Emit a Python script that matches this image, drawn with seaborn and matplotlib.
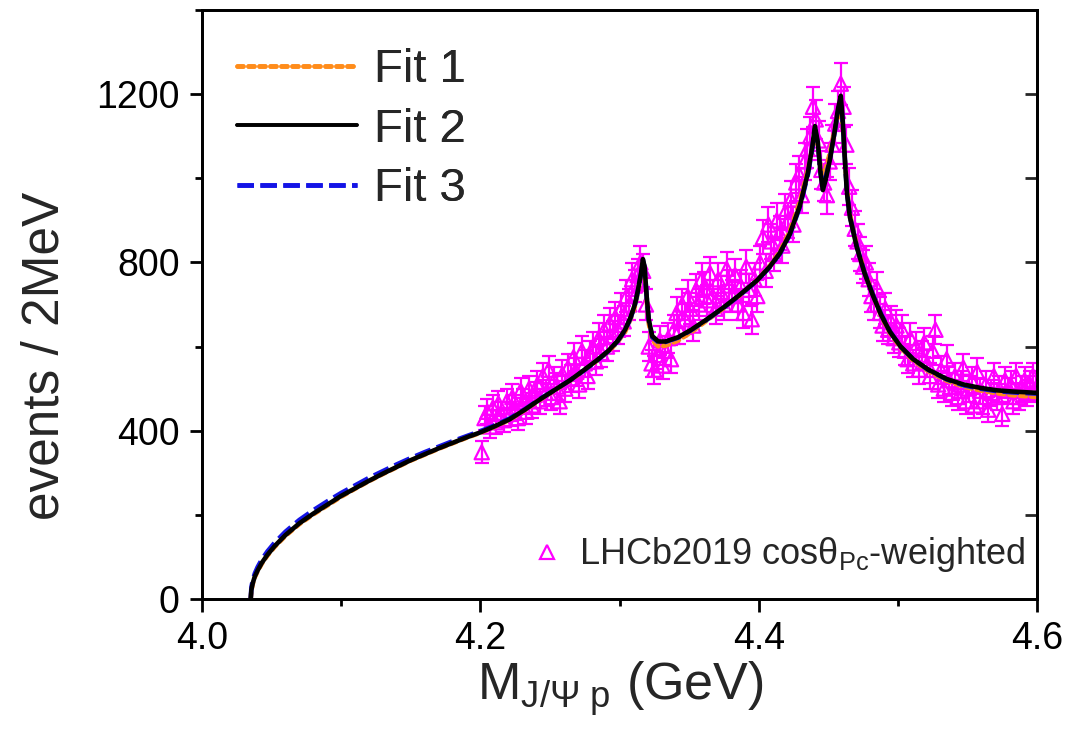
import numpy as np
import pandas as pd
import matplotlib
matplotlib.use("Agg")
import matplotlib.pyplot as plt
import seaborn as sns
from matplotlib.lines import Line2D
from matplotlib.ticker import MultipleLocator, FormatStrFormatter

# ---------------- data ----------------
bin_start = 4.200   # GeV
bin_width = 0.002   # GeV (2 MeV bins)

data_y = [
    349, 430, 445, 410, 455, 420, 465, 440, 425, 470,
    440, 480, 455, 430, 495, 470, 445, 500, 460, 485,
    510, 470, 530, 490, 545, 480, 520, 505, 470, 535,
    500, 550, 525, 575, 540, 510, 590, 560, 530, 580,
    600, 565, 620, 585, 640, 600, 655, 625, 670, 640,
    690, 660, 720, 700, 760, 745, 770, 800, 780, 700,
    600, 560, 545, 580, 615, 555, 590, 620, 570, 640,
    680, 640, 700, 665, 720, 690, 650, 735, 700, 760,
    740, 710, 775, 720, 690, 760, 730, 700, 785, 745,
    720, 770, 700, 745, 680, 790, 735, 665, 760, 720,
    800, 860, 780, 890, 850, 820, 900, 870, 840, 920,
    900, 950, 890, 990, 1010, 960, 1040, 1070, 1100, 1170,
    1140, 1090, 1020, 990, 960, 1040, 1080, 1130, 1160, 1225,
    1170, 1080, 980, 930, 880, 850, 820, 790, 800, 760,
    720, 700, 740, 680, 650, 690, 640, 660, 620, 650,
    610, 640, 590, 570, 620, 560, 600, 545, 580, 610,
    560, 530, 590, 640, 510, 545, 500, 570, 520, 490,
    530, 480, 510, 550, 470, 500, 520, 460, 540, 495,
    470, 510, 450, 490, 530, 480, 500, 440, 520, 495,
    510, 470, 530, 480, 500, 520, 490, 510, 530, 500,
]
data_err = [
    26, 29, 30, 28, 30, 29, 30, 29, 29, 30,
    29, 31, 30, 29, 31, 30, 30, 31, 30, 31,
    32, 30, 32, 31, 33, 31, 32, 31, 30, 32,
    31, 33, 32, 34, 33, 32, 34, 33, 32, 34,
    34, 33, 35, 34, 35, 34, 36, 35, 36, 35,
    37, 36, 38, 37, 39, 38, 39, 40, 39, 37,
    34, 33, 33, 34, 35, 33, 34, 35, 34, 35,
    37, 35, 37, 36, 38, 37, 36, 38, 37, 39,
    38, 37, 39, 38, 37, 39, 38, 37, 39, 38,
    38, 39, 37, 38, 37, 39, 38, 36, 39, 38,
    40, 41, 39, 42, 41, 40, 42, 41, 41, 42,
    42, 43, 42, 44, 44, 43, 45, 46, 46, 48,
    47, 46, 45, 44, 44, 45, 46, 47, 48, 50,
    48, 46, 44, 43, 42, 41, 40, 40, 40, 39,
    38, 37, 38, 37, 36, 37, 35, 36, 35, 36,
    35, 35, 34, 33, 35, 33, 34, 33, 34, 35,
    33, 32, 34, 35, 32, 33, 31, 33, 32, 31,
    32, 31, 32, 33, 30, 31, 32, 30, 33, 31,
    30, 32, 30, 31, 32, 31, 31, 29, 32, 31,
    32, 30, 32, 31, 31, 32, 31, 32, 32, 31,
]
data_x = [bin_start + bin_width * (i + 0.5) for i in range(len(data_y))]

fit_x = [
    4.0350, 4.0355, 4.0365, 4.0380, 4.0400, 4.0430, 4.0470, 4.0520, 4.0600, 4.0700,
    4.0800, 4.0900, 4.1000, 4.1100, 4.1200, 4.1300, 4.1400, 4.1500, 4.1600, 4.1700,
    4.1800, 4.1900, 4.2000, 4.2100, 4.2210, 4.2320, 4.2440, 4.2540, 4.2645, 4.2740,
    4.2840, 4.2920, 4.2985, 4.3040, 4.3080, 4.3110, 4.3130, 4.3155, 4.3168, 4.3180,
    4.3195, 4.3210, 4.3235, 4.3280, 4.3330, 4.3420, 4.3506, 4.3620, 4.3743, 4.3860,
    4.3987, 4.4080, 4.4152, 4.4224, 4.4296, 4.4353, 4.4385, 4.4404, 4.4425, 4.4445,
    4.4461, 4.4480, 4.4511, 4.4545, 4.4570, 4.4590, 4.4605, 4.4620, 4.4634, 4.4655,
    4.4705, 4.4760, 4.4820, 4.4880, 4.4943, 4.5020, 4.5110, 4.5220, 4.5350, 4.5470,
    4.5590, 4.5710, 4.5830, 4.6000]
fit2_y = [
    0, 22, 38, 54, 68, 86, 105, 125, 152, 180,
    203, 224, 245, 263, 281, 298, 314, 330, 344, 358,
    371, 384, 396, 410, 427, 450, 477, 498, 520, 543,
    568, 590, 613, 640, 670, 700, 730, 775, 808, 790,
    720, 665, 625, 612, 612, 622, 638, 663, 692, 722,
    757, 790, 822, 868, 935, 1012, 1075, 1124, 1085, 1010,
    972, 995, 1043, 1110, 1165, 1196, 1130, 1040, 965, 908,
    836, 775, 722, 675, 635, 600, 570, 545, 523, 510,
    502, 496, 493, 490]
fit1_y = [
    0, 20, 36, 52, 66, 84, 103, 123, 150, 178,
    201, 222, 243, 262, 280, 297, 313, 329, 343, 357,
    370, 383, 395, 409, 426, 449, 476, 497, 519, 542,
    567, 588, 610, 635, 665, 695, 725, 770, 800, 785,
    712, 655, 615, 600, 602, 614, 632, 660, 690, 721,
    757, 792, 826, 875, 945, 1020, 1070, 1100, 1075, 1025,
    1005, 1020, 1060, 1115, 1150, 1170, 1120, 1045, 975, 915,
    840, 778, 723, 673, 632, 597, 567, 541, 519, 505,
    496, 489, 484, 480]
fit3_y = [
    0, 28, 45, 61, 76, 94, 113, 133, 160, 188,
    211, 232, 252, 270, 288, 304, 320, 335, 349, 362,
    375, 387, 399, 412, 429, 451, 478, 498, 520, 542,
    567, 589, 612, 638, 668, 698, 728, 773, 805, 788,
    718, 662, 622, 610, 611, 621, 637, 662, 691, 721,
    756, 789, 820, 866, 932, 1008, 1070, 1118, 1082, 1012,
    978, 1000, 1045, 1108, 1160, 1190, 1128, 1042, 968, 910,
    838, 777, 724, 677, 636, 600, 570, 544, 522, 508,
    500, 494, 491, 488]

fit_labels = ["Fit 1", "Fit 2", "Fit 3"]
data_label = "LHCb2019 cosθ$_{\\rm Pc}$-weighted"

# ---------------- style ----------------
sns.set_theme(style="ticks")
plt.rcParams['font.family'] = ['Liberation Sans', 'DejaVu Sans']
plt.rcParams['mathtext.fontset'] = 'custom'
plt.rcParams['mathtext.rm'] = 'Liberation Sans'
plt.rcParams['mathtext.it'] = 'Liberation Sans:italic'
plt.rcParams['mathtext.bf'] = 'Liberation Sans:bold'

magenta = '#FF00FF'
orange = '#FF8C1A'
blue = '#1414E6'
LW = 3.3

fig = plt.figure(figsize=(10.71, 7.31), dpi=100)
ax = fig.add_axes([0.1886, 0.1806, 0.7797, 0.8057])

# data points with error bars
ax.errorbar(data_x, data_y, yerr=data_err, fmt='none', ecolor=magenta,
            elinewidth=1.6, capsize=4.8, capthick=1.6, zorder=2)
sns.scatterplot(x=data_x, y=data_y, ax=ax, marker='^', s=105,
                facecolor='none', edgecolor=magenta, linewidth=1.6, zorder=3)

# fit curves
sns.lineplot(x=fit_x, y=fit1_y, ax=ax, color=orange, linewidth=LW,
             linestyle=(0, (1.3, 1.1)), dash_capstyle='round',
             sort=False, estimator=None, zorder=4)
sns.lineplot(x=fit_x, y=fit3_y, ax=ax, color=blue, linewidth=LW,
             linestyle=(0, (3.6, 1.4)), sort=False, estimator=None, zorder=5)
sns.lineplot(x=fit_x, y=fit2_y, ax=ax, color='black', linewidth=LW,
             sort=False, estimator=None, zorder=6)

ax.set_xlim(4.0, 4.6)
ax.set_ylim(0, 1400)
ax.xaxis.set_major_locator(MultipleLocator(0.2))
ax.xaxis.set_minor_locator(MultipleLocator(0.1))
ax.yaxis.set_major_locator(MultipleLocator(400))
ax.yaxis.set_minor_locator(MultipleLocator(200))
ax.xaxis.set_major_formatter(FormatStrFormatter('%.1f'))
ax.tick_params(which='both', direction='out', width=2, labelsize=27,
               top=False, right=False, pad=7, colors='black')
ax.tick_params(which='major', length=9)
ax.tick_params(which='minor', length=5)
for s in ax.spines.values():
    s.set_linewidth(2)
    s.set_color('black')
ax.set_xlabel('')
ax.set_ylabel('')

# right axis with inward ticks
ax2 = ax.twinx()
ax2.set_ylim(0, 1400)
ax2.yaxis.set_major_locator(MultipleLocator(400))
ax2.yaxis.set_minor_locator(MultipleLocator(200))
ax2.tick_params(which='both', direction='in', width=2, labelright=False, right=True)
ax2.tick_params(which='major', length=9)
ax2.tick_params(which='minor', length=9)
for s in ax2.spines.values():
    s.set_linewidth(2)
    s.set_color('black')

# legends
handles = [
    Line2D([], [], color=orange, lw=LW, linestyle=(0, (1.3, 1.1)), dash_capstyle='round'),
    Line2D([], [], color='black', lw=2.6),
    Line2D([], [], color=blue, lw=LW, linestyle=(0, (3.6, 1.4))),
]
leg1 = ax2.legend(handles, fit_labels, loc='upper left', bbox_to_anchor=(0.042, 0.935),
                  frameon=False, fontsize=34, handlelength=2.55, handletextpad=0.35,
                  labelspacing=0.33, borderpad=0, borderaxespad=0)
ax2.add_artist(leg1)
h2 = [Line2D([], [], linestyle='none', marker='^', markersize=10,
             markerfacecolor='none', markeredgecolor=magenta, markeredgewidth=1.6)]
ax.legend(h2, [data_label], loc='center right', bbox_to_anchor=(0.986, 0.075),
          frameon=False, fontsize=26, handlelength=0.9, handletextpad=0.45,
          borderpad=0, borderaxespad=0)

fig.text(45 / 1071, 1 - 356 / 731, 'events / 2MeV', rotation=90, ha='center',
         va='center', fontsize=37)
fig.text(620 / 1071, 1 - 700 / 731, 'M$_{\\rm J/\\Psi\\ p}$ (GeV)', ha='center',
         va='baseline', fontsize=37.5)

fig.savefig('out.png', dpi=100)
